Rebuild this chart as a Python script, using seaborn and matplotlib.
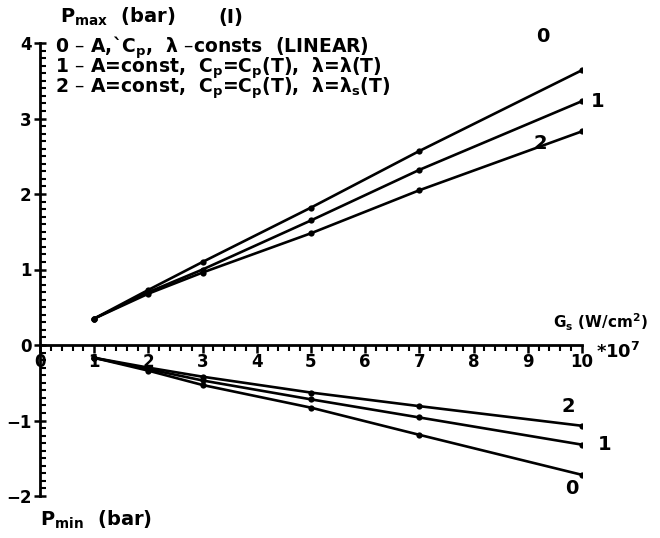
import matplotlib
matplotlib.use("Agg")
import matplotlib.pyplot as plt
import seaborn as sns
import pandas as pd
from matplotlib.ticker import MultipleLocator, FixedLocator

# ---- data (G in units of 1e7 W/cm^2) ----
g_vals = [1, 2, 3, 5, 7, 10]
pmax_0 = [0.35, 0.73, 1.10, 1.82, 2.57, 3.64]
pmax_1 = [0.35, 0.70, 1.00, 1.65, 2.32, 3.23]
pmax_2 = [0.35, 0.68, 0.96, 1.48, 2.05, 2.83]
pmin_0 = [-0.17, -0.34, -0.53, -0.83, -1.19, -1.72]
pmin_1 = [-0.17, -0.32, -0.47, -0.72, -0.96, -1.32]
pmin_2 = [-0.17, -0.30, -0.42, -0.63, -0.81, -1.07]
curve_labels = ["0", "1", "2"]
x_ticks = [0, 1, 2, 3, 4, 5, 6, 7, 8, 9, 10]
y_ticks = [-2, -1, 0, 1, 2, 3, 4]
legend_lines = [
    r"0 – A,`$\mathregular{C_p}$,  λ –consts  (LINEAR)",
    r"1 – A=const,  $\mathregular{C_p}$=$\mathregular{C_p}$(T),  λ=λ(T)",
    r"2 – A=const,  $\mathregular{C_p}$=$\mathregular{C_p}$(T),  λ=$\mathregular{λ_s}$(T)",
]

rows = []
for name, series, part in [("0", pmax_0, "max"), ("1", pmax_1, "max"), ("2", pmax_2, "max"),
                           ("0", pmin_0, "min"), ("1", pmin_1, "min"), ("2", pmin_2, "min")]:
    for g, p in zip(g_vals, series):
        rows.append({"G": g, "P": p, "curve": name, "part": part, "key": name + part})
df = pd.DataFrame(rows)

sns.set_theme(style="white")
plt.rcParams["font.family"] = ["DejaVu Sans"]
plt.rcParams["font.weight"] = "bold"
plt.rcParams["mathtext.default"] = "regular"
plt.rcParams["text.color"] = "black"
plt.rcParams["xtick.color"] = "black"
plt.rcParams["ytick.color"] = "black"
plt.rcParams["xtick.labelcolor"] = "black"
plt.rcParams["ytick.labelcolor"] = "black"

fig = plt.figure(figsize=(6.6, 5.38), dpi=100)
ax = fig.add_axes([40 / 660, 1 - 496 / 538, 542 / 660, 453 / 538])

sns.lineplot(data=df, x="G", y="P", units="key", estimator=None, color="black",
             linewidth=1.9, marker="o", markersize=4.5, markeredgewidth=0,
             legend=False, ax=ax, sort=False)

ax.set_xlim(0, 10)
ax.set_ylim(-2, 4)
for s in ["top", "right"]:
    ax.spines[s].set_visible(False)
ax.spines["left"].set_position(("data", 0))
ax.spines["bottom"].set_position(("data", 0))
for s in ["left", "bottom"]:
    ax.spines[s].set_linewidth(2)
    ax.spines[s].set_color("black")
ax.spines["bottom"].set_bounds(0, 10)

ax.xaxis.set_major_locator(FixedLocator(x_ticks))
ax.xaxis.set_minor_locator(MultipleLocator(0.2))
ax.yaxis.set_major_locator(FixedLocator(y_ticks))
ax.yaxis.set_minor_locator(MultipleLocator(0.1))
ax.set_xticklabels([str(v) for v in x_ticks])
ax.set_yticklabels([str(v).replace("-", "−") for v in y_ticks])
ax.tick_params(axis="x", which="both", bottom=True, top=False)
ax.tick_params(axis="y", which="both", left=True, right=False)
ax.tick_params(axis="x", which="major", direction="out", length=6, width=1.8,
               labelsize=12, pad=0, colors="black", labelcolor="black")
ax.tick_params(axis="x", which="minor", direction="out", length=4, width=1.5, colors="black")
ax.tick_params(axis="y", which="major", direction="inout", length=8, width=1.8,
               labelsize=12, pad=2, colors="black", labelcolor="black")
ax.tick_params(axis="y", which="minor", direction="in", length=4, width=1.5, colors="black")
ax.set_xlabel("")
ax.set_ylabel("")
ax.grid(False)

fs = 14
fig.text(60 / 660, 1 - 17 / 538, r"$\mathregular{P_{max}}$  (bar)", fontsize=fs, va="center",
         ha="left", color="black")
fig.text(218 / 660, 1 - 17 / 538, "(I)", fontsize=fs, va="center", ha="left", color="black")
fig.text(55 / 660, 1 - 35 / 538, "\n".join(legend_lines), fontsize=13.5, va="top", ha="left",
         color="black", linespacing=0.68)

# curve labels
ax.annotate(curve_labels[0], (g_vals[-1], pmax_0[-1]), xytext=(-28, 24), textcoords="offset points",
            fontsize=fs, ha="center", va="center", color="black")
ax.annotate(curve_labels[1], (g_vals[-1], pmax_1[-1]), xytext=(11, 0), textcoords="offset points",
            fontsize=fs, ha="center", va="center", color="black")
ax.annotate(curve_labels[2], (g_vals[-1], pmax_2[-1]), xytext=(-30, -9), textcoords="offset points",
            fontsize=fs, ha="center", va="center", color="black")
ax.annotate(curve_labels[2], (g_vals[-1], pmin_2[-1]), xytext=(-10, 14), textcoords="offset points",
            fontsize=fs, ha="center", va="center", color="black")
ax.annotate(curve_labels[1], (g_vals[-1], pmin_1[-1]), xytext=(16, 0), textcoords="offset points",
            fontsize=fs, ha="center", va="center", color="black")
ax.annotate(curve_labels[0], (g_vals[-1], pmin_0[-1]), xytext=(-7, -10), textcoords="offset points",
            fontsize=fs, ha="center", va="center", color="black")

fig.text(553 / 660, 1 - 322 / 538, r"$\mathregular{G_s}$ (W/cm$\mathregular{^2}$)", fontsize=11,
         va="center", ha="left", color="black")
fig.text(596 / 660, 1 - 352 / 538, r"*10$\mathregular{^7}$", fontsize=13, va="center", ha="left",
         color="black")
fig.text(40 / 660, 1 - 520 / 538, r"$\mathregular{P_{min}}$  (bar)", fontsize=fs, va="center",
         ha="left", color="black")

fig.savefig("out.png", dpi=100, facecolor="white")
